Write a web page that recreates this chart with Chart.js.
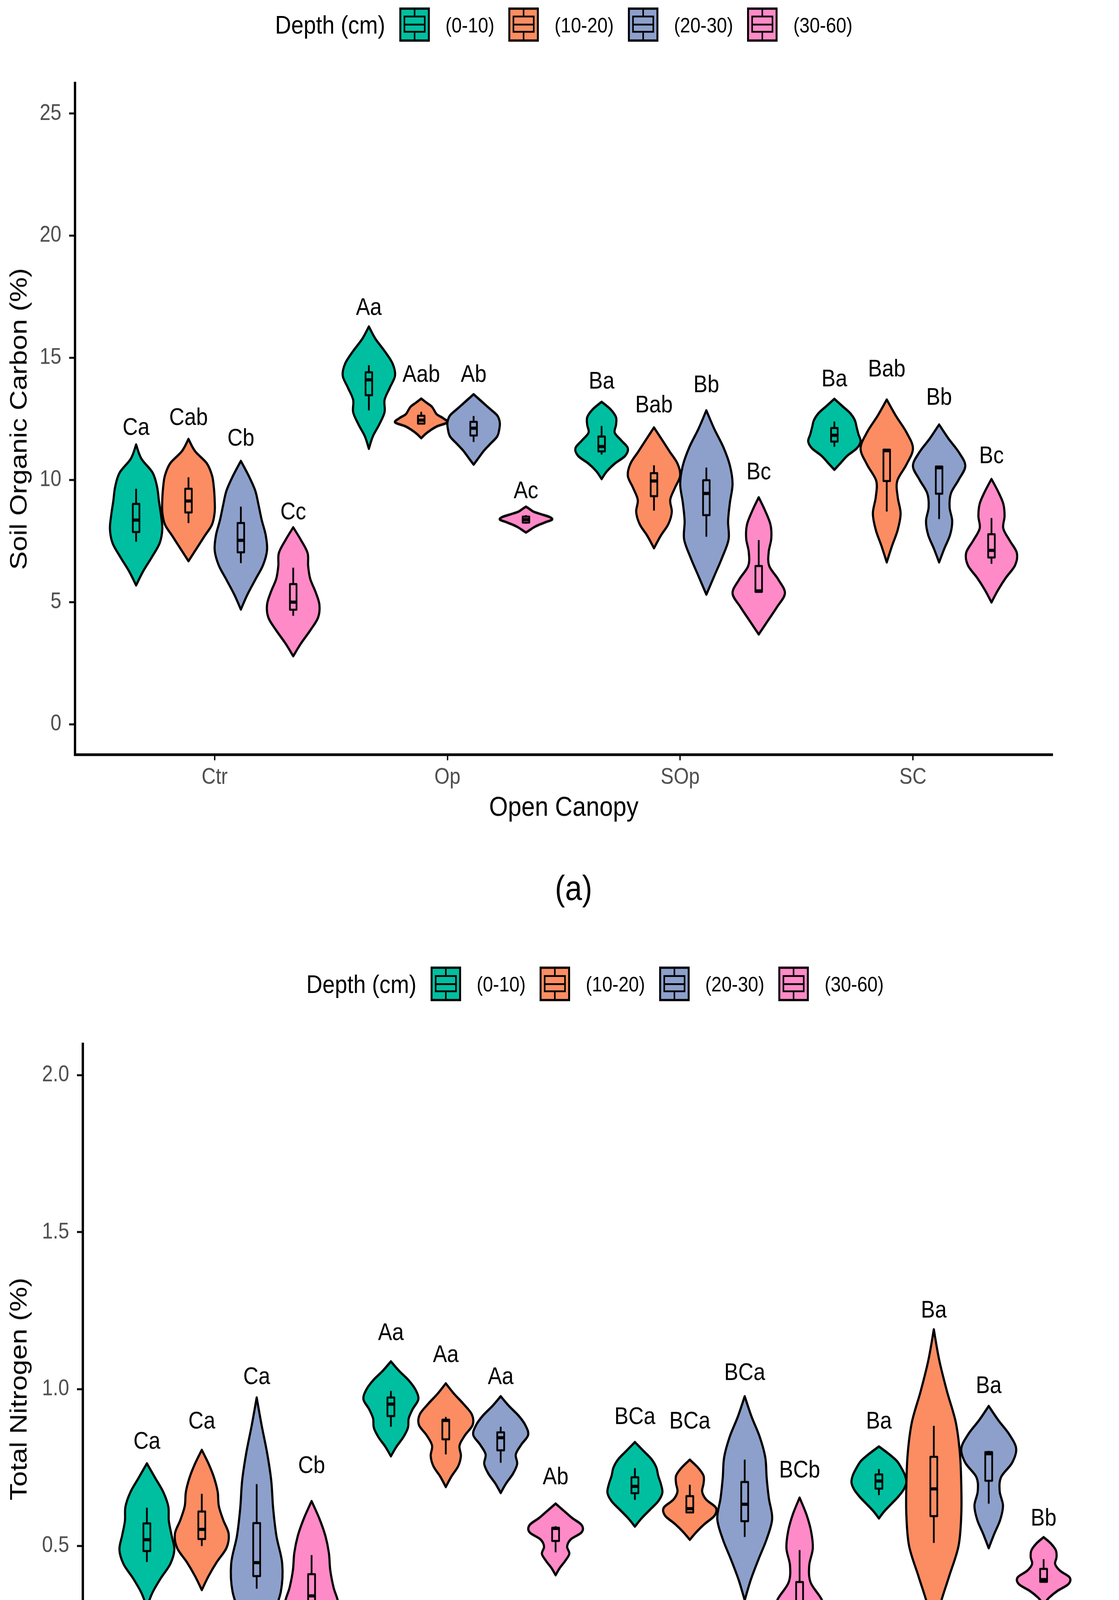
<!DOCTYPE html>
<html>
<head>
<meta charset="utf-8">
<script src="https://cdn.jsdelivr.net/npm/chart.js@4.4.1/dist/chart.umd.min.js"></script>
<style>
  html, body { margin: 0; padding: 0; background: #fff; }
  body { width: 2864px; height: 4839px; overflow: hidden; position: relative; }
  #page { position: absolute; left: 0; top: 0; width: 2864px; transform-origin: 0 0;
          font-family: "Liberation Sans", Arial, sans-serif; color: #000; }
  canvas { position: absolute; left: 0; }
  .legend { position: absolute; display: flex; align-items: center; white-space: nowrap;
            transform: translate(-50%, -50%); }
  .legend .ltitle { font-size: 57px; }
  .legend .ltext { font-size: 47px; margin-left: 40px; }
  .key { position: relative; display: block; box-sizing: border-box; width: 78px;
         border: 5px solid #000; margin-left: 36px; }
  .key i { position: absolute; display: block; background: #000; }
  .key .box { left: 6px; right: 6px; top: 20%; height: 57%; background: none;
              border: 4px solid #000; box-sizing: border-box; }
  .key .med { left: 6px; right: 6px; top: 47%; height: 4px; }
  .key .wt { left: 50%; width: 4px; margin-left: -2px; top: 0; height: 20%; }
  .key .wb { left: 50%; width: 4px; margin-left: -2px; top: 77%; bottom: 0; }
  .panel-label { position: absolute; font-size: 78px; transform: translate(-50%, -50%); }
</style>
</head>
<body>
<div id="page">
  <div id="legendA" class="legend"></div>
  <canvas id="socChart"></canvas>
  <div id="labelA" class="panel-label">(a)</div>
  <div id="legendB" class="legend"></div>
  <canvas id="tnChart"></canvas>
  <div id="labelB" class="panel-label">(b)</div>
</div>
<script>
// the reference figure is a little stretched vertically, so the whole page is drawn
// at 1/SY height and scaled back up
const SY = 1.15;
const FONT = '"Liberation Sans", Arial, sans-serif';

const canopy = ['Ctr', 'Op', 'SOp', 'SC'];
const depths = ['(0-10)', '(10-20)', '(20-30)', '(30-60)'];
const depthColors = ['#00BFA0', '#FC8D62', '#8DA0CB', '#FF8AC8'];

// all per-violin arrays are [canopy][depth]
// shape = relative width at 9 evenly spaced levels, from the top tip down to the bottom tip

// Soil organic carbon (%)
const socTicks = [0, 5, 10, 15, 20, 25];
const socMin = [
  [5.69, 6.68, 4.70, 2.79],
  [11.28, 11.71, 10.63, 7.85],
  [10.04, 7.21, 5.31, 3.68],
  [10.42, 6.63, 6.63, 4.99]
];
const socMax = [
  [11.45, 11.68, 10.78, 8.06],
  [16.28, 13.33, 13.51, 8.91],
  [13.20, 12.15, 12.85, 9.29],
  [13.32, 13.29, 12.27, 10.04]
];
const socShape = [
  [[0.2, 0.63, 0.8, 0.87, 0.95, 1.0, 0.9, 0.6, 0.27],
   [0.25, 0.7, 0.9, 0.97, 1.0, 1.0, 0.9, 0.6, 0.3],
   [0.3, 0.55, 0.68, 0.8, 0.95, 1.0, 0.85, 0.55, 0.25],
   [0.3, 0.55, 0.57, 0.65, 0.85, 1.0, 0.95, 0.65, 0.3]],
  [[0.25, 0.6, 0.9, 1.0, 0.8, 0.6, 0.6, 0.4, 0.15],
   [0.2, 0.4, 0.5, 0.6, 0.85, 1.0, 0.6, 0.35, 0.15],
   [0.3, 0.6, 0.9, 1.0, 0.98, 0.9, 0.65, 0.4, 0.2],
   [0.15, 0.3, 0.6, 0.9, 1.0, 0.75, 0.5, 0.3, 0.15]],
  [[0.35, 0.55, 0.55, 0.5, 0.75, 1.0, 0.9, 0.5, 0.2],
   [0.3, 0.6, 0.9, 1.0, 0.8, 0.62, 0.68, 0.55, 0.25],
   [0.3, 0.65, 0.9, 1.0, 0.9, 0.83, 0.85, 0.6, 0.3],
   [0.25, 0.45, 0.48, 0.38, 0.4, 0.75, 1.0, 0.7, 0.35]],
  [[0.3, 0.6, 0.78, 0.85, 0.92, 1.0, 0.85, 0.5, 0.25],
   [0.35, 0.75, 1.0, 0.75, 0.4, 0.42, 0.53, 0.42, 0.2],
   [0.35, 0.75, 1.0, 0.75, 0.45, 0.4, 0.5, 0.42, 0.2],
   [0.25, 0.45, 0.5, 0.45, 0.7, 0.97, 0.9, 0.55, 0.25]]
];
// [lower whisker, q1, median, q3, upper whisker]
const socBox = [
  [[7.47, 7.87, 8.36, 9.02, 9.64], [8.24, 8.67, 9.14, 9.64, 10.11],
   [6.60, 7.04, 7.53, 8.24, 8.91], [4.44, 4.69, 5.00, 5.74, 6.41]],
  [[12.85, 13.47, 14.10, 14.41, 14.70], [12.27, 12.31, 12.45, 12.63, 12.79],
   [11.56, 11.82, 12.12, 12.38, 12.62], [8.21, 8.26, 8.38, 8.50, 8.56]],
  [[11.04, 11.17, 11.37, 11.78, 12.21], [8.75, 9.34, 9.96, 10.28, 10.60],
   [7.68, 8.56, 9.45, 9.99, 10.51], [5.40, 5.42, 5.46, 6.48, 7.54]],
  [[11.36, 11.57, 11.83, 12.13, 12.39], [8.71, 9.96, 11.20, 11.24, 11.28],
   [8.40, 9.44, 10.50, 10.55, 10.55], [6.57, 6.83, 7.12, 7.78, 8.44]]
];
const socLetters = [
  ['Ca', 'Cab', 'Cb', 'Cc'],
  ['Aa', 'Aab', 'Ab', 'Ac'],
  ['Ba', 'Bab', 'Bb', 'Bc'],
  ['Ba', 'Bab', 'Bb', 'Bc']
];
const socLetterY = [
  [12.12, 12.53, 11.68, 8.67],
  [17.04, 14.29, 14.29, 9.53],
  [14.02, 13.04, 13.86, 10.31],
  [14.11, 14.52, 13.35, 10.96]
];

// Total nitrogen (%)
const tnTicks = [0, 0.5, 1, 1.5, 2];
const tnTickLabels = ['0.0', '0.5', '1.0', '1.5', '2.0'];
const tnMin = [
  [0.305, 0.360, 0.090, 0.093],
  [0.786, 0.688, 0.669, 0.407],
  [0.562, 0.520, 0.327, 0.114],
  [0.588, 0.204, 0.493, 0.314]
];
const tnMax = [
  [0.763, 0.806, 0.973, 0.643],
  [1.088, 1.018, 0.977, 0.635],
  [0.831, 0.775, 0.977, 0.654],
  [0.817, 1.190, 0.946, 0.528]
];
const tnShape = [
  [[0.3, 0.6, 0.78, 0.8, 0.9, 1.0, 0.85, 0.5, 0.2],
   [0.25, 0.45, 0.58, 0.62, 0.78, 0.98, 0.9, 0.55, 0.25],
   [0.18, 0.38, 0.53, 0.6, 0.72, 0.93, 0.88, 0.55, 0.22],
   [0.28, 0.5, 0.63, 0.68, 0.8, 0.98, 0.85, 0.5, 0.22]],
  [[0.3, 0.65, 0.9, 1.0, 0.8, 0.65, 0.62, 0.45, 0.2],
   [0.3, 0.65, 0.95, 0.98, 0.7, 0.5, 0.55, 0.45, 0.2],
   [0.3, 0.65, 0.9, 1.0, 0.75, 0.55, 0.6, 0.45, 0.2],
   [0.3, 0.6, 0.95, 0.95, 0.55, 0.42, 0.5, 0.35, 0.15]],
  [[0.3, 0.6, 0.78, 0.85, 0.95, 1.0, 0.85, 0.55, 0.25],
   [0.3, 0.5, 0.5, 0.45, 0.6, 0.95, 0.9, 0.55, 0.25],
   [0.25, 0.55, 0.75, 0.8, 0.88, 1.0, 0.8, 0.5, 0.22],
   [0.25, 0.42, 0.48, 0.35, 0.4, 0.8, 1.0, 0.7, 0.3]],
  [[0.35, 0.65, 0.82, 0.95, 1.0, 0.9, 0.7, 0.45, 0.2],
   [0.2, 0.48, 0.8, 0.95, 1.0, 1.0, 0.9, 0.55, 0.2],
   [0.35, 0.75, 1.0, 0.85, 0.45, 0.4, 0.52, 0.42, 0.2],
   [0.28, 0.45, 0.47, 0.42, 0.6, 0.95, 0.9, 0.5, 0.2]]
];
const tnBox = [
  [[0.449, 0.484, 0.520, 0.572, 0.622], [0.500, 0.522, 0.553, 0.610, 0.666],
   [0.364, 0.404, 0.447, 0.573, 0.697], [0.265, 0.300, 0.341, 0.410, 0.471]],
  [[0.880, 0.914, 0.952, 0.973, 0.994], [0.792, 0.840, 0.900, 0.902, 0.911],
   [0.765, 0.805, 0.845, 0.862, 0.880], [0.480, 0.516, 0.556, 0.558, 0.563]],
  [[0.647, 0.668, 0.690, 0.719, 0.748], [0.604, 0.607, 0.619, 0.659, 0.695],
   [0.529, 0.579, 0.633, 0.704, 0.775], [0.281, 0.281, 0.284, 0.385, 0.487]],
  [[0.662, 0.683, 0.707, 0.728, 0.745], [0.510, 0.595, 0.682, 0.784, 0.883],
   [0.635, 0.708, 0.794, 0.799, 0.803], [0.386, 0.386, 0.393, 0.427, 0.458]]
];
const tnLetters = [
  ['Ca', 'Ca', 'Ca', 'Cb'],
  ['Aa', 'Aa', 'Aa', 'Ab'],
  ['BCa', 'BCa', 'BCa', 'BCb'],
  ['Ba', 'Ba', 'Ba', 'Bb']
];
const tnLetterY = [
  [0.831, 0.895, 1.037, 0.754],
  [1.178, 1.108, 1.037, 0.718],
  [0.910, 0.895, 1.050, 0.740],
  [0.895, 1.249, 1.008, 0.586]
];

// ggplot dodge: 4 violins in 0.9 of a category
const dodge = [-0.3375, -0.1125, 0.1125, 0.3375];
const violinHalf = 0.1125;
const boxHalf = 0.0142;

function smoothTo(ctx, pts) {
  const n = pts.length;
  for (let i = 0; i < n - 1; i++) {
    const p0 = pts[Math.max(i - 1, 0)], p1 = pts[i], p2 = pts[i + 1], p3 = pts[Math.min(i + 2, n - 1)];
    ctx.bezierCurveTo(
      p1[0] + (p2[0] - p0[0]) / 6, p1[1] + (p2[1] - p0[1]) / 6,
      p2[0] - (p3[0] - p1[0]) / 6, p2[1] - (p3[1] - p1[1]) / 6,
      p2[0], p2[1]);
  }
}

const violinPlugin = {
  id: 'violins',
  afterDatasetsDraw(chart, args, opts) {
    const { ctx, scales: { x, y } } = chart;
    const d = opts.series;
    ctx.save();
    for (let c = 0; c < canopy.length; c++) {
      for (let k = 0; k < depths.length; k++) {
        const xv = c + 1 + dodge[k];
        const xc = x.getPixelForValue(xv);
        const hw = x.getPixelForValue(xv + violinHalf) - xc;
        const bw = x.getPixelForValue(xv + boxHalf) - xc;
        const lo = d.min[c][k], hi = d.max[c][k];
        const widths = [0].concat(d.shape[c][k], [0]);
        const right = widths.map((r, i) => [xc + r * hw, y.getPixelForValue(hi - (hi - lo) * i / 10)]);
        const left = right.slice().reverse().map(p => [2 * xc - p[0], p[1]]);

        ctx.beginPath();
        ctx.moveTo(right[0][0], right[0][1]);
        smoothTo(ctx, right);
        smoothTo(ctx, left);
        ctx.closePath();
        ctx.fillStyle = depthColors[k];
        ctx.fill();
        ctx.lineWidth = 5.5;
        ctx.lineJoin = 'round';
        ctx.strokeStyle = '#000';
        ctx.stroke();

        // boxplot inside
        const [wl, q1, med, q3, wh] = d.box[c][k].map(v => y.getPixelForValue(v));
        ctx.lineWidth = 4.5;
        ctx.beginPath();
        ctx.moveTo(xc, wh); ctx.lineTo(xc, q3);
        ctx.moveTo(xc, q1); ctx.lineTo(xc, wl);
        ctx.stroke();
        ctx.strokeRect(xc - bw, q3, 2 * bw, q1 - q3);
        ctx.lineWidth = 7;
        ctx.beginPath();
        ctx.moveTo(xc - bw, med); ctx.lineTo(xc + bw, med);
        ctx.stroke();

        // letters
        ctx.fillStyle = '#000';
        ctx.font = '54px ' + FONT;
        ctx.textAlign = 'center';
        ctx.textBaseline = 'middle';
        ctx.fillText(d.letters[c][k], xc, y.getPixelForValue(d.letterY[c][k]));
      }
    }
    ctx.restore();
  }
};

// cfg values are in reference pixels
function makeChart(id, cfg) {
  const canvas = document.getElementById(id);
  canvas.width = 2864;
  canvas.height = Math.round(cfg.height / SY);
  canvas.style.top = (cfg.top / SY) + 'px';

  return new Chart(canvas, {
    type: 'scatter',
    data: {
      datasets: depths.map((d, k) => ({ label: d, data: [], backgroundColor: depthColors[k] }))
    },
    options: {
      responsive: false,
      animation: false,
      devicePixelRatio: 1,
      layout: { padding: { top: cfg.padTop / SY, right: cfg.padRight, left: 0, bottom: 0 } },
      plugins: {
        legend: { display: false },
        tooltip: { enabled: false },
        violins: { series: cfg.series }
      },
      scales: {
        x: {
          type: 'linear',
          min: 0.4,
          max: 4.6,
          afterBuildTicks: s => { s.ticks = canopy.map((n, i) => ({ value: i + 1 })); },
          afterFit: s => { s.height = cfg.xAxisHeight / SY; },
          grid: { display: true, drawOnChartArea: false, drawTicks: true,
                  tickLength: 14 / SY, tickWidth: 3.5, tickColor: '#000' },
          border: { display: true, color: '#000', width: 7 / SY },
          ticks: {
            callback: v => canopy[v - 1],
            autoSkip: false, maxRotation: 0, minRotation: 0,
            font: { family: FONT, size: 50 }, color: '#4D4D4D', padding: 9
          },
          title: {
            display: true, text: 'Open Canopy', color: '#000',
            font: { family: FONT, size: 62 }, padding: { top: 0, bottom: 33 }
          }
        },
        y: {
          min: cfg.yMin,
          max: cfg.yMax,
          afterBuildTicks: s => { s.ticks = cfg.yTicks.map(v => ({ value: v })); },
          afterFit: s => { s.width = cfg.yAxisWidth; },
          grid: { display: true, drawOnChartArea: false, drawTicks: true,
                  tickLength: 15, tickWidth: 5 / SY, tickColor: '#000' },
          border: { display: true, color: '#000', width: 6 },
          ticks: {
            callback: cfg.yLabel,
            font: { family: FONT, size: 50 }, color: '#4D4D4D', padding: 20
          },
          title: {
            display: true, text: cfg.yTitle, color: '#000',
            font: { family: FONT, size: 62 }, padding: { top: 14, bottom: 0 }
          }
        }
      }
    },
    plugins: [violinPlugin]
  });
}

function makeLegend(id, cx, cy) {
  const el = document.getElementById(id);
  el.style.left = cx + 'px';
  el.style.top = (cy / SY) + 'px';
  let html = '<span class="ltitle">Depth (cm)</span>';
  depths.forEach((d, k) => {
    html += '<span class="key" style="height:' + (88 / SY) + 'px;background:' + depthColors[k] + '">' +
      '<i class="wt"></i><i class="box"></i><i class="med"></i><i class="wb"></i></span>' +
      '<span class="ltext">' + d + '</span>';
  });
  el.innerHTML = html;
}

function place(id, cx, cy) {
  const el = document.getElementById(id);
  el.style.left = cx + 'px';
  el.style.top = (cy / SY) + 'px';
}

const page = document.getElementById('page');
page.style.height = (4839 / SY) + 'px';
page.style.transform = 'scaleY(' + SY + ')';

makeLegend('legendA', 1443, 63);
makeLegend('legendB', 1523, 2519);
place('labelA', 1468, 2274);
place('labelB', 1470, 4777);

makeChart('socChart', {
  top: 150, height: 2000, padTop: 63, padRight: 170, yAxisWidth: 192, xAxisHeight: 217,
  yMin: -1.25, yMax: 26.25, yTicks: socTicks, yLabel: v => String(v),
  yTitle: 'Soil Organic Carbon (%)',
  series: { min: socMin, max: socMax, shape: socShape, box: socBox, letters: socLetters, letterY: socLetterY }
});

makeChart('tnChart', {
  top: 2600, height: 2060, padTop: 72, padRight: 29, yAxisWidth: 212, xAxisHeight: 220,
  yMin: -0.1, yMax: 2.1, yTicks: tnTicks, yLabel: v => tnTickLabels[tnTicks.indexOf(v)],
  yTitle: 'Total Nitrogen (%)',
  series: { min: tnMin, max: tnMax, shape: tnShape, box: tnBox, letters: tnLetters, letterY: tnLetterY }
});
</script>
</body>
</html>
